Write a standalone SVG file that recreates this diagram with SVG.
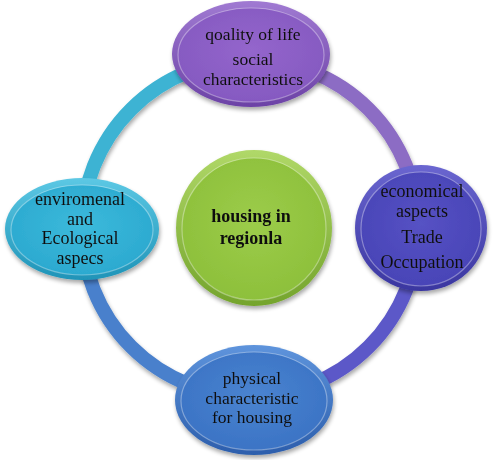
<svg xmlns="http://www.w3.org/2000/svg" width="500" height="460" viewBox="0 0 500 460">
<style>
.lbl{font-family:"Liberation Serif","Times New Roman",serif;font-size:17px;fill:#111;text-anchor:middle}
.bold{font-weight:bold;font-size:18px}
.ring{fill:none;stroke-width:14}
.rim{fill:none;stroke:#ffffff;stroke-opacity:0.35;stroke-width:1.2}
</style>
<defs>
<filter id="sh" x="-20%" y="-20%" width="140%" height="150%">
<feGaussianBlur in="SourceAlpha" stdDeviation="2"/>
<feOffset dx="1" dy="3" result="b"/>
<feComponentTransfer><feFuncA type="linear" slope="0.35"/></feComponentTransfer>
<feMerge><feMergeNode/><feMergeNode in="SourceGraphic"/></feMerge>
</filter>
<linearGradient id="gP" x1="0" y1="0" x2="0" y2="1"><stop offset="0" stop-color="#a07ad2"/><stop offset="1" stop-color="#6c42a6"/></linearGradient>
<radialGradient id="iP" cx="0.5" cy="0.45" r="0.6"><stop offset="0" stop-color="#9466cc"/><stop offset="1" stop-color="#8458c0"/></radialGradient>
<linearGradient id="gC" x1="0" y1="0" x2="0" y2="1"><stop offset="0" stop-color="#5cc8e4"/><stop offset="1" stop-color="#1f94b8"/></linearGradient>
<radialGradient id="iC" cx="0.5" cy="0.45" r="0.6"><stop offset="0" stop-color="#3cbadb"/><stop offset="1" stop-color="#2aa8cf"/></radialGradient>
<linearGradient id="gV" x1="0" y1="0" x2="0" y2="1"><stop offset="0" stop-color="#6a66d0"/><stop offset="1" stop-color="#3a36a0"/></linearGradient>
<radialGradient id="iV" cx="0.5" cy="0.45" r="0.6"><stop offset="0" stop-color="#5652c4"/><stop offset="1" stop-color="#4843b6"/></radialGradient>
<linearGradient id="gB" x1="0" y1="0" x2="0" y2="1"><stop offset="0" stop-color="#5e94dc"/><stop offset="1" stop-color="#2c5eac"/></linearGradient>
<radialGradient id="iB" cx="0.5" cy="0.45" r="0.6"><stop offset="0" stop-color="#4a84d0"/><stop offset="1" stop-color="#3a72c4"/></radialGradient>
<linearGradient id="gG" x1="0" y1="0" x2="0" y2="1"><stop offset="0" stop-color="#b0d868"/><stop offset="1" stop-color="#74a42c"/></linearGradient>
<radialGradient id="iG" cx="0.5" cy="0.45" r="0.6"><stop offset="0" stop-color="#9ccc4a"/><stop offset="1" stop-color="#8cbf3a"/></radialGradient>
</defs>
<rect width="500" height="460" fill="#ffffff"/>
<g id="connectors" filter="url(#sh)">
<path class="ring" stroke="#3db3d3" d="M250 60 A168 168 0 0 0 82 228"/>
<path class="ring" stroke="#8c6cc4" d="M250 60 A168 168 0 0 1 418 228"/>
<path class="ring" stroke="#5c58c8" d="M418 228 A168 168 0 0 1 250 396"/>
<path class="ring" stroke="#4a80cc" d="M250 396 A168 168 0 0 1 82 228"/>
</g>
<g id="center" filter="url(#sh)">
<ellipse cx="254" cy="228" rx="78" ry="78" fill="url(#gG)"/>
<ellipse cx="254" cy="229" rx="72" ry="71" fill="url(#iG)"/>
<ellipse class="rim" cx="254" cy="229" rx="72" ry="71"/>
<text class="lbl bold" x="251" y="222">housing in</text>
<text class="lbl bold" x="251" y="244">regionla</text>
</g>
<g id="top" filter="url(#sh)">
<ellipse cx="251" cy="54" rx="79" ry="53" fill="url(#gP)"/>
<ellipse cx="251" cy="55" rx="73" ry="47" fill="url(#iP)"/>
<ellipse class="rim" cx="251" cy="55" rx="73" ry="47"/>
<text class="lbl" x="253" y="40" style="font-size:17.5px">qoality of  life</text>
<text class="lbl" x="253" y="65" style="font-size:17.5px">social</text>
<text class="lbl" x="253" y="85" style="font-size:17.5px">characteristics</text>
</g>
<g id="left" filter="url(#sh)">
<ellipse cx="82" cy="229" rx="77" ry="51" fill="url(#gC)"/>
<ellipse cx="82" cy="230" rx="71" ry="45" fill="url(#iC)"/>
<ellipse class="rim" cx="82" cy="230" rx="71" ry="45"/>
<text class="lbl" x="80" y="205" style="font-size:18px">enviromenal</text>
<text class="lbl" x="80" y="224.5" style="font-size:18px">and</text>
<text class="lbl" x="80" y="244" style="font-size:18px">Ecological</text>
<text class="lbl" x="80" y="263.5" style="font-size:18px">aspecs</text>
</g>
<g id="right" filter="url(#sh)">
<ellipse cx="421" cy="228" rx="66" ry="63" fill="url(#gV)"/>
<ellipse cx="421" cy="229" rx="60" ry="57" fill="url(#iV)"/>
<ellipse class="rim" cx="421" cy="229" rx="60" ry="57"/>
<text class="lbl" x="422" y="197" style="font-size:18px">economical</text>
<text class="lbl" x="422" y="217" style="font-size:18px">aspects</text>
<text class="lbl" x="422" y="243" style="font-size:18px">Trade</text>
<text class="lbl" x="422" y="268" style="font-size:18px">Occupation</text>
</g>
<g id="bottom" filter="url(#sh)">
<ellipse cx="254" cy="400" rx="79" ry="55" fill="url(#gB)"/>
<ellipse cx="254" cy="401" rx="73" ry="49" fill="url(#iB)"/>
<ellipse class="rim" cx="254" cy="401" rx="73" ry="49"/>
<text class="lbl" x="252" y="384" style="font-size:17.5px">physical</text>
<text class="lbl" x="252" y="404" style="font-size:17.5px">characteristic</text>
<text class="lbl" x="252" y="423" style="font-size:17.5px">for housing</text>
</g>
</svg>
